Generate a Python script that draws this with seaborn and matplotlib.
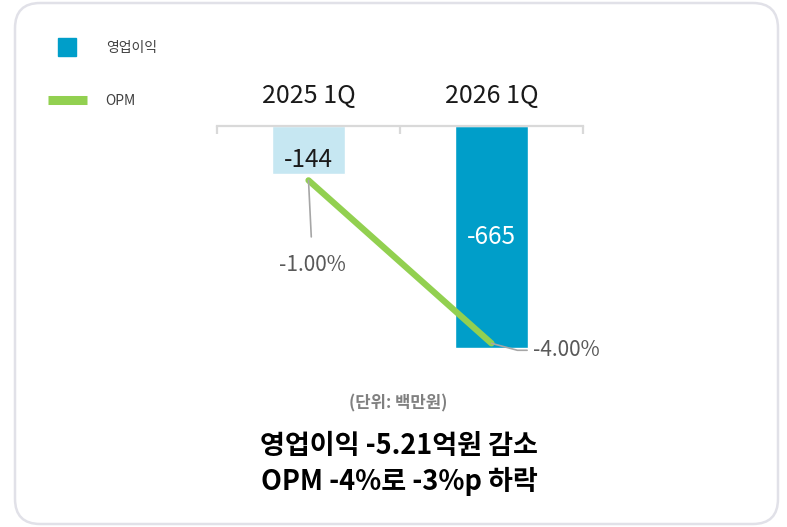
import numpy as np
import pandas as pd
import matplotlib
matplotlib.use("Agg")
import matplotlib.pyplot as plt
import seaborn as sns
from matplotlib.patches import FancyBboxPatch
from matplotlib.lines import Line2D

# %% data
quarters = ["2025 1Q", "2026 1Q"]
op_income = [-144, -665]          # 영업이익 (백만원)
opm = [-1.00, -4.00]              # OPM (%)
bar_colors = ["#c6e7f2", "#009ec9"]
line_color = "#92d050"

sns.set_theme(style="white")
plt.rcParams["font.family"] = ["Noto Sans CJK KR", "DejaVu Sans"]

df = pd.DataFrame({"quarter": quarters, "op": op_income, "opm": opm})

W, H = 787, 527
fig = plt.figure(figsize=(W / 100, H / 100), dpi=100)
ax = fig.add_axes([217 / W, (H - 376) / H, 366 / W, 250 / H])

# bars hanging from the top axis
sns.barplot(df, x="quarter", y="op", hue="quarter", palette=bar_colors,
            width=0.4, legend=False, ax=ax, saturation=1)
ax.set_ylim(-750, 0)
ax.set_xlim(-0.5, 1.5)

# OPM on a twin axis, 0 aligned with the top
ax2 = ax.twinx()
sns.lineplot(df, x="quarter", y="opm", color=line_color, linewidth=4.5,
             ax=ax2, solid_capstyle="round")
ax2.set_ylim(-750 / 163, 0)
ax2.set_xlim(-0.5, 1.5)

for a in (ax, ax2):
    a.set_xlabel("")
    a.set_ylabel("")
    a.set_yticks([])
    for s in ["left", "right", "bottom"]:
        a.spines[s].set_visible(False)
ax2.spines["top"].set_visible(False)
ax2.set_xticks([])

# top category axis
ax.spines["top"].set_visible(True)
ax.spines["top"].set_color("#d9d9d9")
ax.spines["top"].set_linewidth(1.6)
ax.xaxis.tick_top()
ax.set_xticks(range(len(quarters)))
ax.set_xticklabels(quarters, fontsize=18, color="#1a1a1a")
ax.tick_params(axis="x", which="major", length=0, pad=12)
ax.set_xticks([-0.5, 0.5, 1.5], minor=True)
ax.tick_params(axis="x", which="minor", direction="in", length=6,
               width=1.6, color="#d9d9d9")

# bar value labels
ax.annotate(f"{op_income[0]}", (0, op_income[0]), xytext=(0, 10),
            textcoords="offset points", ha="center", va="center",
            fontsize=17.5, color="#1a1a1a")
ax.text(1, op_income[1] / 2, f"{op_income[1]}", ha="center", va="center",
        fontsize=17.5, color="white")

# OPM labels with leader lines
ax2.annotate(f"{opm[0]:.2f}%", (0, opm[0]), xytext=(3, -61),
             textcoords="offset points", ha="center", va="center",
             fontsize=15, color="#595959",
             arrowprops=dict(arrowstyle="-", color="#a6a6a6", lw=1.2,
                             shrinkA=10, shrinkB=0))
ax2.annotate(f"{opm[1]:.2f}%", (1, opm[1]), xytext=(30, -5),
             textcoords="offset points", ha="left", va="center",
             fontsize=15, color="#595959",
             arrowprops=dict(arrowstyle="-", color="#a6a6a6", lw=1.2,
                             shrinkA=2, shrinkB=0,
                             connectionstyle="angle,angleA=0,angleB=-15,rad=0"))

# legend
handles = [
    Line2D([], [], marker="s", markersize=13, linestyle="none",
           color=bar_colors[1]),
    Line2D([], [], color=line_color, linewidth=6.5, solid_capstyle="butt"),
]
fig.legend(handles, ["영업이익", "OPM"], loc="upper left",
           bbox_to_anchor=(48 / W, 1 - 41 / H), frameon=False, fontsize=10,
           handlelength=2.8, handletextpad=1.35, labelspacing=2.8,
           borderpad=0, borderaxespad=0, labelcolor="#404040")

# unit and headline
fig.text(398 / W, 1 - 403 / H, "(단위: 백만원)", ha="center", va="center",
         fontsize=12, fontweight="bold", color="#808080")
fig.text(399 / W, 1 - 446 / H, "영업이익 -5.21억원 감소", ha="center",
         va="center", fontsize=19.5, fontweight="bold", color="black")
fig.text(399 / W, 1 - 481 / H, "OPM -4%로 -3%p 하락", ha="center",
         va="center", fontsize=19.5, fontweight="bold", color="black")

# rounded card frame
fig.patches.append(FancyBboxPatch(
    (15 / W, 3 / H), 763 / W, 521 / H, transform=fig.transFigure,
    boxstyle="round,pad=0,rounding_size=0.032", mutation_aspect=W / H,
    facecolor="none", edgecolor="#e1e1e8", linewidth=1.8, figure=fig))

fig.savefig("out.png", dpi=100)
